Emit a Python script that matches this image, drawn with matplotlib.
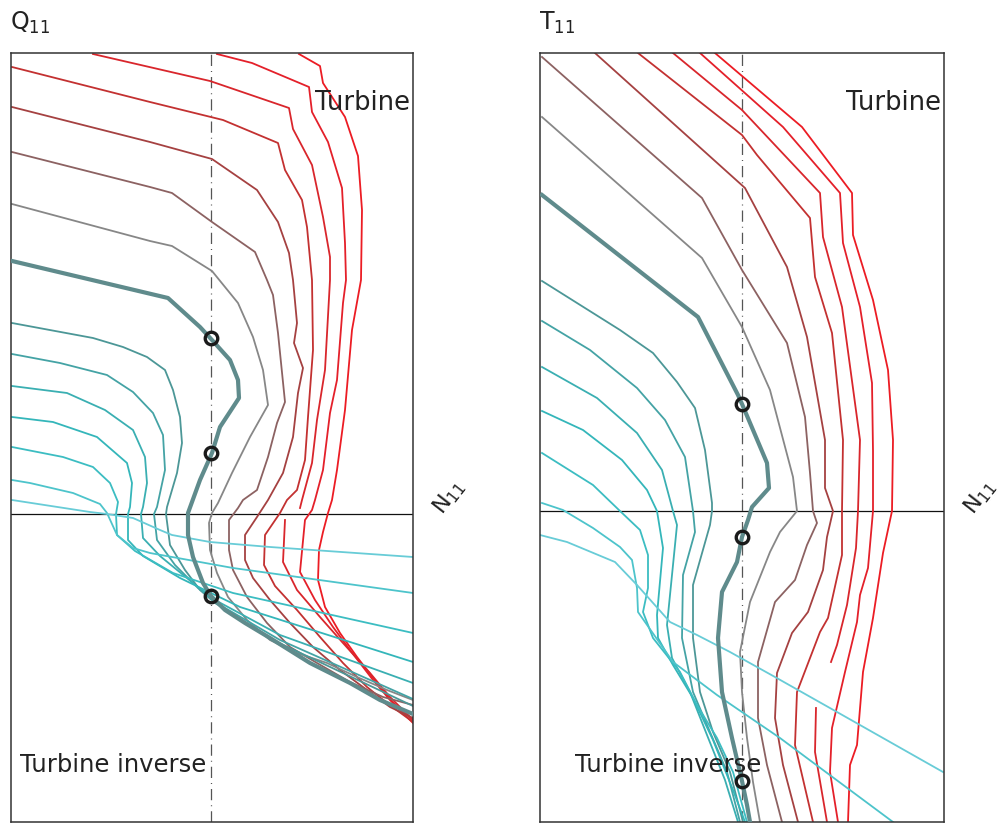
import matplotlib
matplotlib.use('Agg')
import matplotlib.pyplot as plt

# ---------- Q11 panel : (N11, Q11) readings, origin = left frame / N11 axis
q_r1 = [(288,460),(309,448),(312,431),(334,397),(347,358),(351,304),(350,234),(341,184),(334,104),(326,44),
        (321,14),(317,1),(312,-18),(308,-36),(307,-66),(314,-93),(329,-119),(346,-143),(366,-169),(382,-189),(402,-209)]
q_r2 = [(206,460),(241,451),(298,427),(301,402),(317,372),(331,326),(334,271),(335,234),(332,211),(326,134),
        (319,101),(312,44),(304,14),(301,4),(294,-6),(289,-58),(304,-86),(322,-113),(339,-136),(362,-166),(379,-186),(402,-206)]
q_r3a = [(82,460),(199,433),(278,406),(282,385),(301,349),(312,297),(319,257),(319,234),(314,144),(306,94),(301,51),(291,14),(289,6)]
q_r3b = [(274,-6),(272,-48),(286,-76),(309,-103),(332,-129),(359,-159),(379,-183),(402,-206)]
q_r4 = [(1,447),(139,412),(212,394),(267,371),(274,344),(291,314),(296,287),(301,234),(302,164),(297,97),(294,54),
        (286,24),(276,14),(269,1),(254,-21),(253,-51),(264,-72),(286,-96),(309,-123),(332,-149),(356,-173),(376,-189),(402,-208)]
q_r5 = [(1,407),(139,372),(201,355),(246,324),(267,292),(278,261),(282,234),(286,191),(283,171),(292,146),(287,121),
        (282,77),(272,41),(257,14),(246,-3),(234,-21),(234,-46),(242,-64),(259,-86),(279,-109),(302,-133),(329,-156),
        (356,-176),(379,-193),(402,-204)]
q_r6 = [(1,362),(139,327),(161,321),(201,292),(244,262),(256,234),(262,219),(267,181),(274,112),(266,91),(257,57),
        (246,24),(232,14),(227,6),(218,-6),(218,-36),(222,-56),(236,-83),(256,-109),(279,-133),(306,-149),(339,-168),
        (372,-183),(402,-191)]
q_r7 = [(1,310),(139,273),(161,268),(201,243),(227,211),(242,177),(252,144),(257,109),(239,77),(221,41),(207,11),
        (201,1),(198,-9),(199,-36),(206,-59),(217,-83),(236,-106),(259,-126),(286,-139),(316,-149),(346,-163),(376,-176),(402,-186)]
q_best = [(1,253),(157,216),(189,187),(201,174),(219,154),(227,134),(228,116),(209,87),(201,61),(189,34),(177,1),
          (177,-21),(182,-43),(192,-69),(200,-82),(214,-96),(234,-109),(259,-124),(299,-149),(339,-169),(369,-186),(402,-200)]
q_t1 = [(1,191),(82,176),(112,167),(136,157),(154,144),(162,124),(169,97),(171,71),(166,41),(156,7),(155,0),
        (159,-31),(174,-56),(189,-76),(204,-89),(264,-127),(402,-192)]
q_t2 = [(1,160),(49,151),(96,139),(122,122),(142,101),(152,79),(154,44),(146,7),(143,0),(146,-26),(164,-51),
        (187,-74),(209,-91),(269,-126),(402,-185)]
q_t3 = [(1,128),(56,121),(94,104),(122,84),(134,57),(136,31),(132,7),(130,0),(132,-24),(149,-42),(182,-69),
        (204,-86),(269,-121),(402,-169)]
q_t4 = [(1,97),(42,92),(86,77),(116,51),(121,31),(119,7),(117,0),(117,-26),(132,-42),(169,-64),(229,-93),(402,-148)]
q_t5 = [(1,67),(52,57),(82,47),(99,31),(107,12),(105,0),(106,-21),(124,-37),(162,-59),(222,-79),(402,-119)]
q_t6 = [(1,34),(19,31),(62,21),(89,10),(96,1),(106,-21),(122,-34),(139,-39),(222,-54),(402,-79)]
q_t7 = [(1,14),(79,2),(96,0),(122,-4),(149,-16),(161,-21),(199,-28),(259,-33),(402,-43)]
q_points = [(200,176),(200,61),(200,-82)]
q_design = 200

# ---------- T11 panel
t_r1 = [(175,458),(262,384),(312,318),(313,276),(333,211),(348,141),(353,71),(352,0),(343,-42),(333,-107),
        (323,-161),(317,-234),(310,-254),(308,-311)]
t_r2 = [(160,458),(243,384),(300,318),(303,268),(320,204),(332,128),(333,60),(333,0),(328,-57),(320,-84),
        (317,-111),(305,-161),(292,-217),(290,-261),(298,-311)]
t_r3a = [(133,458),(202,401),(280,318),(283,274),(302,204),(320,71),(318,0),(316,-37),(307,-94),(297,-134),(291,-151)]
t_r3b = [(276,-197),(275,-241),(287,-311)]
t_r4 = [(98,458),(202,376),(217,356),(270,293),(275,234),(292,178),(303,71),(302,0),(302,-44),(288,-107),
        (280,-121),(257,-181),(255,-234),(273,-311)]
t_r5 = [(55,458),(205,323),(247,244),(267,174),(285,71),(285,23),(293,0),(287,-26),(283,-59),(268,-101),
        (252,-122),(237,-162),(235,-207),(243,-254),(258,-311)]
t_r6 = [(2,454),(162,313),(202,241),(247,168),(265,94),(270,38),(273,0),(277,-12),(267,-34),(255,-69),
        (235,-91),(218,-151),(218,-207),(227,-254),(242,-311)]
t_r7 = [(2,394),(162,253),(202,184),(230,121),(253,34),(257,0),(240,-21),(230,-41),(210,-91),(200,-141),
        (202,-181),(207,-227),(213,-271),(220,-311)]
t_best = [(2,316),(158,194),(198,116),(202,107),(227,48),(229,23),(212,4),(208,-9),(202,-26),(197,-51),
          (182,-81),(178,-127),(182,-181),(192,-227),(202,-270),(207,-294),(210,-311)]
t_t1 = [(2,230),(80,181),(113,158),(137,129),(155,103),(165,61),(172,8),(172,0),(170,-14),(153,-74),(153,-127),
        (160,-181),(173,-221),(190,-261),(203,-311)]
t_t2 = [(2,190),(50,161),(97,123),(125,91),(145,54),(153,0),(155,-21),(143,-64),(142,-127),(153,-181),
        (170,-221),(187,-261),(200,-311)]
t_t3 = [(2,144),(57,113),(97,78),(122,41),(133,0),(137,-14),(133,-54),(127,-114),(132,-147),(150,-181),
        (167,-224),(185,-269),(198,-311)]
t_t4 = [(2,100),(43,81),(82,51),(107,21),(117,0),(123,-37),(117,-104),(118,-127),(133,-154),(153,-187),
        (173,-229),(193,-279),(205,-311)]
t_t5 = [(2,58),(53,26),(80,0),(100,-19),(108,-44),(108,-77),(103,-101),(113,-127),(140,-161),(157,-194),
        (177,-227),(193,-261),(207,-311)]
t_t6 = [(2,8),(23,1),(53,-17),(80,-36),(92,-49),(97,-77),(98,-101),(133,-151),(177,-184),(240,-227),(353,-311)]
t_t7 = [(0,-24),(27,-31),(75,-51),(97,-74),(130,-111),(157,-124),(190,-141),(235,-166),(297,-201),(403,-261)]
t_points = [(202,107),(202,-26),(202,-270)]
t_design = 202

# colours, outer (red) -> inner (cyan)
c_r1, c_r2, c_r3 = '#ec1c24', '#e4202a', '#d9262c'
c_r4, c_r5, c_r6, c_r7 = '#c33131', '#a54141', '#8c6262', '#878787'
c_best = '#5f8b8c'
c_t = ['#4c9797', '#44a3a5', '#3aafb2', '#34b6ba', '#3cbdc2', '#4dc4cb', '#68ccd7']


def curves(r1, r2, r3, r4, r5, r6, r7, ts):
    out = [(p, c_r1) for p in r1] + [(r2, c_r2)] + [(p, c_r3) for p in r3]
    out += [(r4, c_r4), (r5, c_r5), (r6, c_r6), (r7, c_r7)]
    out += list(zip(ts, c_t))
    return out


def draw(ax, lines, best, points, design, xmax, ymin, ymax, label):
    ax.set_xlim(0, xmax)
    ax.set_ylim(ymin, ymax)
    ax.set_xticks([])
    ax.set_yticks([])
    for s in ax.spines.values():
        s.set_color('#333333')
        s.set_linewidth(1.1)
    ax.axhline(0, color='#111111', lw=0.9, zorder=1)
    ax.axvline(design, color='#555555', lw=0.9, dashes=(9, 4, 0.8, 4), zorder=1)
    for pts, col in lines:
        ax.plot([p[0] for p in pts], [p[1] for p in pts], color=col, lw=1.3, zorder=2)
    ax.plot([p[0] for p in best], [p[1] for p in best], color=c_best, lw=3.0, zorder=3,
            solid_joinstyle='round')
    ax.plot([p[0] for p in points], [p[1] for p in points], 'o', ms=9, mfc='none',
            mec='#1a1a1a', mew=2.4, zorder=4)
    ax.text(-0.003, 1.030, label, transform=ax.transAxes, fontsize=17, color='#222222',
            ha='left', va='baseline')
    ax.text(1.09, 0.423, r'N$_{11}$', transform=ax.transAxes, fontsize=16, color='#222222',
            rotation=52, ha='center', va='center')
    ax.text(0.992, 0.926, 'Turbine', transform=ax.transAxes, fontsize=18.5, color='#222222',
            ha='right', va='baseline', zorder=5)


fig = plt.figure(figsize=(10.05, 8.23), dpi=100)
ax1 = fig.add_axes([11 / 1005, 1 / 823, 402 / 1005, 769 / 823])
ax2 = fig.add_axes([540 / 1005, 1 / 823, 404 / 1005, 769 / 823])

draw(ax1, curves([q_r1], q_r2, [q_r3a, q_r3b], q_r4, q_r5, q_r6, q_r7,
                 [q_t1, q_t2, q_t3, q_t4, q_t5, q_t6, q_t7]),
     q_best, q_points, q_design, 402, -308, 461, r'Q$_{11}$')
draw(ax2, curves([t_r1], t_r2, [t_r3a, t_r3b], t_r4, t_r5, t_r6, t_r7,
                 [t_t1, t_t2, t_t3, t_t4, t_t5, t_t6, t_t7]),
     t_best, t_points, t_design, 404, -311, 458, r'T$_{11}$')

ax1.text(0.022, 0.065, 'Turbine inverse', transform=ax1.transAxes, fontsize=17.5,
         color='#222222', ha='left', va='baseline', zorder=5)
ax2.text(0.087, 0.065, 'Turbine inverse', transform=ax2.transAxes, fontsize=17.5,
         color='#222222', ha='left', va='baseline', zorder=5)

fig.savefig('out.png', dpi=100)
